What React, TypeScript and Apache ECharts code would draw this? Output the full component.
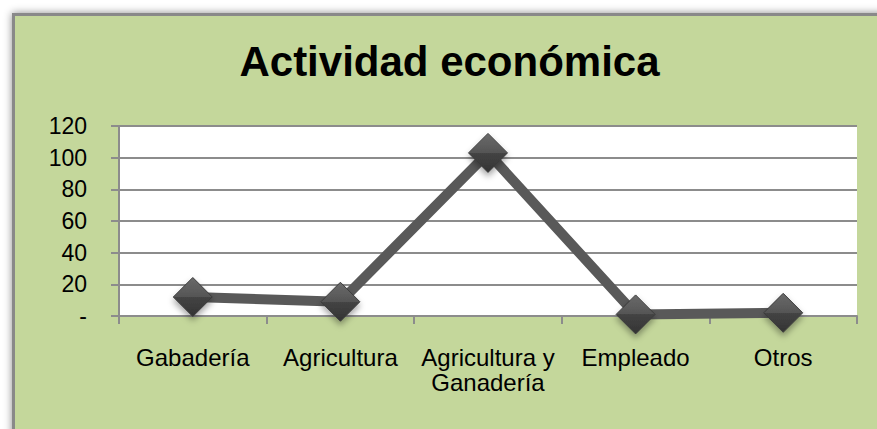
import React, { useEffect, useRef } from "react";
import * as echarts from "echarts";

const categories = ["Gabadería", "Agricultura", "Agricultura y\nGanadería", "Empleado", "Otros"];
const values = [12, 9, 103, 1, 2];
const yTicks = { min: 0, max: 120, interval: 20 };
const titleText = "Actividad económica";

export default function App() {
  const ref = useRef<HTMLDivElement>(null);
  useEffect(() => {
    if (!ref.current) return;
    const chart = echarts.init(ref.current, null, { renderer: "svg" });
    chart.setOption({
      animation: false,
      backgroundColor: "transparent",
      graphic: [
        {
          type: "text",
          x: 449.5,
          y: 61,
          style: {
            text: titleText,
            textAlign: "center",
            textVerticalAlign: "middle",
            font: "bold 42px 'Liberation Sans', Arial, sans-serif",
            fill: "#000",
          },
        },
      ],
      grid: {
        left: 119,
        right: 20,
        top: 126,
        bottom: 113,
        show: true,
        backgroundColor: "#ffffff",
        borderWidth: 0,
      },
      xAxis: {
        type: "category",
        data: categories,
        boundaryGap: true,
        axisLine: { show: true, lineStyle: { color: "#8c8c8c", width: 2 } },
        axisTick: { show: true, alignWithLabel: false, length: 8, lineStyle: { color: "#8c8c8c", width: 2 } },
        axisLabel: {
          margin: 29,
          color: "#000",
          fontFamily: "'Liberation Sans', Arial, sans-serif",
          fontSize: 24,
          lineHeight: 25,
          interval: 0,
        },
        splitLine: { show: false },
      },
      yAxis: {
        type: "value",
        min: yTicks.min,
        max: yTicks.max,
        interval: yTicks.interval,
        axisLine: { show: true, lineStyle: { color: "#8c8c8c", width: 2 } },
        axisTick: { show: true, length: 8, lineStyle: { color: "#8c8c8c", width: 2 } },
        axisLabel: {
          margin: 32,
          color: "#000",
          fontFamily: "'Liberation Sans', Arial, sans-serif",
          fontSize: 23,
          formatter: (v: number) => (v === 0 ? "-" : String(v)),
        },
        splitLine: { show: true, lineStyle: { color: "#8c8c8c", width: 2 } },
      },
      series: [
        {
          type: "line",
          data: values,
          symbol: "diamond",
          symbolSize: [39, 39],
          lineStyle: { color: "#595959", width: 10 },
          itemStyle: {
            color: new echarts.graphic.LinearGradient(0, 0, 0, 1, [
              { offset: 0, color: "#6a6a6a" },
              { offset: 0.5, color: "#555555" },
              { offset: 0.5, color: "#444444" },
              { offset: 1, color: "#333333" },
            ]),
            borderColor: "#3a3a3a",
            borderWidth: 1,
            shadowBlur: 6,
            shadowOffsetY: 4,
            shadowColor: "rgba(0,0,0,0.35)",
          },
          emphasis: { disabled: true },
        },
      ],
    });
    return () => chart.dispose();
  }, []);
  return (
    <div
      style={{
        position: "fixed",
        left: 0,
        top: 0,
        width: 877,
        height: 429,
        background: "#ffffff",
        overflow: "hidden",
      }}
    >
      <div
        style={{
          position: "absolute",
          left: 12,
          top: 13,
          width: 900,
          height: 460,
          background: "#c4d79b",
          border: "3px solid #898989",
          boxShadow: "0 0 8px rgba(0,0,0,0.45)",
        }}
      />
      <div ref={ref} style={{ position: "absolute", left: 0, top: 0, width: 877, height: 429 }} />
    </div>
  );
}
